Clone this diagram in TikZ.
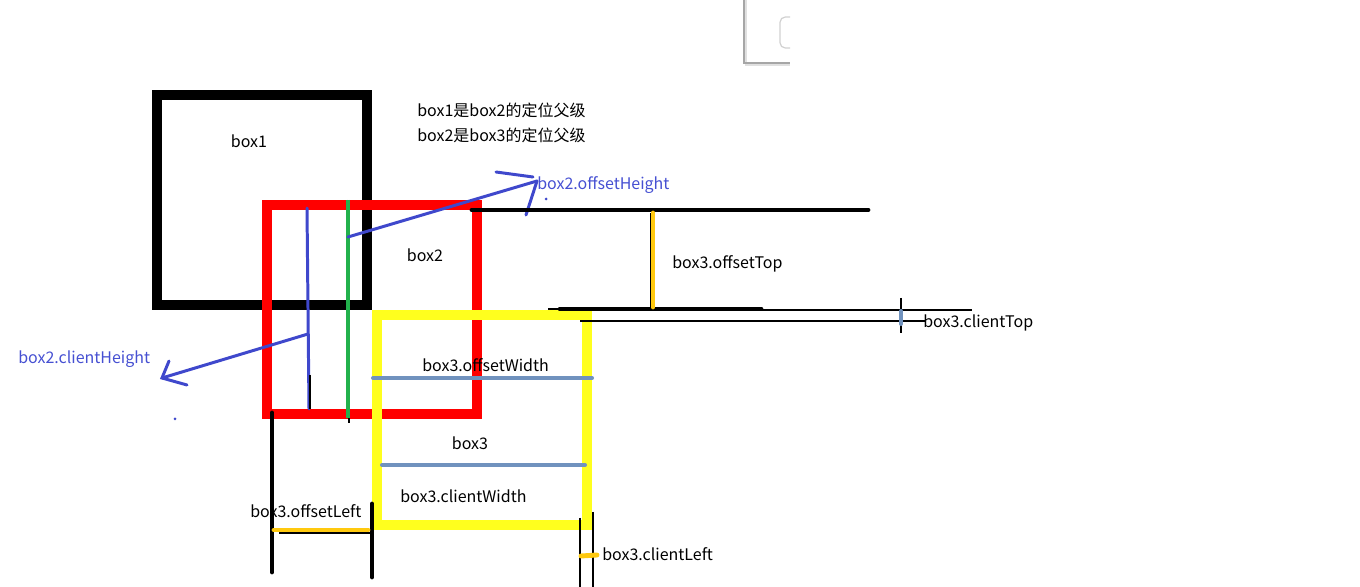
\documentclass[tikz,border=0pt]{standalone}
\usepackage{fontspec}
\newfontfamily\cjk{Noto Sans CJK SC}
\usetikzlibrary{positioning}

\definecolor{boxred}{RGB}{255,0,0}
\definecolor{boxyellow}{RGB}{255,255,30}
\definecolor{penblue}{RGB}{63,72,204}
\definecolor{labelblue}{RGB}{70,80,210}
\definecolor{steel}{RGB}{112,146,190}
\definecolor{gold}{RGB}{255,201,14}
\definecolor{pengreen}{RGB}{34,177,76}

\begin{document}
\begin{tikzpicture}[x=0.02cm,y=-0.02cm]

\useasboundingbox (0,0) rectangle (1360,587);

\tikzstyle{txt} = [font=\cjk\fontsize{9.1}{11}\selectfont, inner sep=0pt, anchor=west]
\tikzstyle{bigbox} = [line width=5.7pt]
\tikzstyle{bar} = [line width=2.8pt, line cap=round]
\tikzstyle{pen} = [penblue, line width=1.7pt, line cap=round]
\tikzstyle{hair} = [black, line width=0.6pt]

% corner of a window at the top
\draw[black!12, line width=1.6pt] (746,0) -- (746,65) -- (790,65);
\draw[black!35, line width=0.7pt] (744,0) -- (744,63) -- (790,63);
\draw[black!18, line width=0.7pt, rounded corners=3] (790,17) -- (780,17) -- (780,48) -- (790,48);

% the three boxes
\draw[bigbox, black] (157,95) rectangle (367,305);
\draw[bigbox, boxred] (267,205) rectangle (477,414);
\draw[bigbox, boxyellow] (377,315) rectangle (587,525);

\node (b1) [txt, anchor=center] at (249,141) {box1};
\node (b2) [txt, anchor=center] at (425,255) {box2};
\node (b3) [txt, anchor=center] at (470,443) {box3};
\node (rel1) [txt] at (417,110) {box1是box2的定位父级};
\node (rel2) [txt] at (417,135) {box2是box3的定位父级};

% box2.clientHeight
\draw[pen] (307,208) -- (309,409);
\draw[hair] (310,375) -- (310,409);
\coordinate (ch0) at (308,334);
\coordinate (ch1) at (162,378);
\draw[pen] (ch0) -- (ch1);
\draw[pen] (169,361) -- (ch1) -- (187,385);
\fill[penblue] (175,419) circle (1.5);
\node (chlbl) [txt, labelblue] at (18,359) {box2.clientHeight};

% box2.offsetHeight
\draw[hair] (347,200) -- (347,255);
\draw[hair] (349,409) -- (349,423);
\draw[pengreen, line width=2pt] (348,200) -- (348,418);
\coordinate (oh0) at (348,237);
\coordinate (oh1) at (537,181);
\draw[pen] (oh0) -- (oh1);
\draw[pen] (496,172) -- (533,177);
\draw[pen] (oh1) -- (526,215);
\fill[penblue] (546,199) circle (1.5);
\node (ohlbl) [txt, labelblue] at (537,185) {box2.offsetHeight};

% box3.offsetTop
\draw[bar] (472,210) -- (868,210);
\draw[bar] (560,309) -- (761,309);
\draw[hair] (548,309) -- (560,309);
\draw[hair] (761,310) -- (972,310);
\draw[hair] (651,213) -- (651,311);
\draw[bar, gold] (653,213) -- (653,307);
\node (otlbl) [txt] at (672,264) {box3.offsetTop};

% box3.clientTop
\draw[hair] (580,321) -- (925,321);
\draw[hair] (901,298) -- (901,333);
\draw[steel, line width=2.3pt, line cap=round] (901,311) -- (901,324);
\node (ctlbl) [txt] at (923,323) {box3.clientTop};

% box3.offsetWidth / clientWidth
\draw[steel, line width=2.3pt, line cap=round] (373,378) -- (592,378);
\node (owlbl) [txt] at (422,365) {box3.offsetWidth};
\draw[steel, line width=2.3pt, line cap=round] (382,465) -- (585,465);
\node (cwlbl) [txt] at (400,496) {box3.clientWidth};

% box3.offsetLeft
\draw[bar] (272,413) -- (272,572);
\draw[bar] (372,504) -- (372,577);
\draw[hair] (279,533) -- (370,533);
\draw[bar, gold] (274,530) -- (368,530);
\node (ollbl) [txt] at (250,511) {box3.offsetLeft};

% box3.clientLeft
\draw[hair] (580,518) -- (580,587);
\draw[hair] (593,512) -- (593,587);
\draw[bar, gold] (581,556) -- (597,555);
\node (cllbl) [txt] at (602,554) {box3.clientLeft};

\end{tikzpicture}
\end{document}
